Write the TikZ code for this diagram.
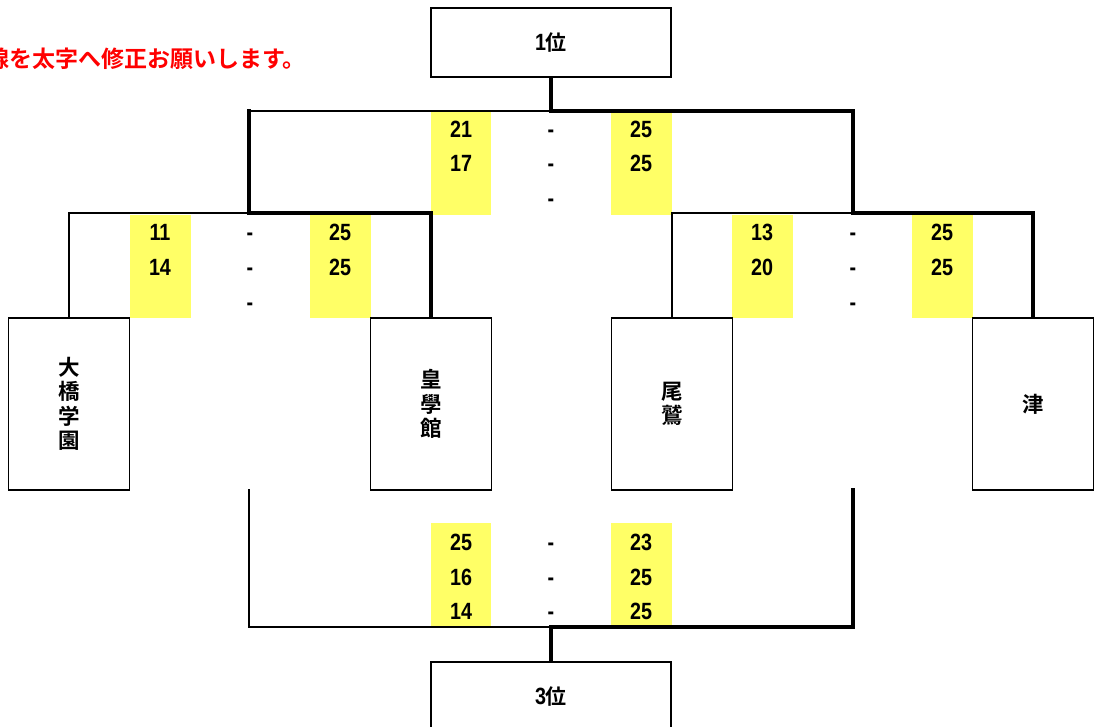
\documentclass[tikz,border=0pt]{standalone}
\usepackage{fontspec}
\newfontfamily\numfont{Liberation Sans Bold}[FakeStretch=0.84]
\newfontfamily\jpfont{Noto Sans CJK JP Bold}
\definecolor{ybar}{HTML}{FFFF66}
\begin{document}
\begin{tikzpicture}[x=1pt,y=-1pt,
  box/.style={draw, line width=1.3pt, inner sep=0pt},
  teambox/.style={box, minimum width=121pt, minimum height=172pt, align=center,
    font=\jpfont\fontsize{21.5}{24.5}\selectfont},
  rankbox/.style={box, minimum width=240pt, minimum height=69pt,
    font=\fontsize{21}{24}\selectfont},
  thinl/.style={line width=1.2pt, line cap=rect},
  thickl/.style={line width=4pt, line cap=rect, line join=miter},
  score/.style={inner sep=0pt, anchor=base, yshift=-8.5pt, font=\numfont\fontsize{23.5}{26}\selectfont},
  dashtxt/.style={score},
  yb/.style={fill=ybar, draw=none}]
\useasboundingbox (0,0) rectangle (1094,726);

% yellow score columns
\fill[yb] (431,112) rectangle (491,215);
\fill[yb] (611,112) rectangle (672,215);
\fill[yb] (130,215) rectangle (191,318);
\fill[yb] (310,215) rectangle (371,318);
\fill[yb] (732,215) rectangle (793,318);
\fill[yb] (912,215) rectangle (973,318);
\fill[yb] (431,523) rectangle (491,627);
\fill[yb] (611,523) rectangle (672,627);

% boxes
\node[rankbox] (first) at (551,42.5) {{\numfont\fontsize{23.5}{26}\selectfont 1}\jpfont 位};
\node[rankbox, minimum height=70pt] (third) at (551,697) {{\numfont\fontsize{23.5}{26}\selectfont 3}\jpfont 位};
\node[teambox] (ohashi) at (69,404) {大\\橋\\学\\園};
\node[teambox] (kogak) at (431,404) {皇\\學\\館};
\node[teambox] (owase) at (672,404) {尾\\鷲};
\node[teambox] (tsu) at (1033,404) {津};

% note
\node[anchor=east, inner sep=0pt, text=red, font=\jpfont\fontsize{23}{26}\selectfont] (note) at (306,59) {線を太字へ修正お願いします。};

% junction coordinates
\coordinate (fL) at (249,111);
\coordinate (fM) at (551,111);
\coordinate (fR) at (853,111);
\coordinate (sL) at (249,213);
\coordinate (sR) at (853,213);
\coordinate (tLs) at (249,490);
\coordinate (tRs) at (853,490);
\coordinate (tM) at (551,627);

% semifinal left
\draw[thinl] (ohashi.north) |- (sL);
\draw[thickl] (kogak.north) |- (sL) -- (fL);
% semifinal right
\draw[thinl] (owase.north) |- (sR);
\draw[thickl] (tsu.north) |- (sR) -- (fR);
% final
\draw[thinl] (fL) -- (fM);
\draw[thickl] (fR) -- (fM) -- (first.south);
% third place
\draw[thinl] (tLs) |- (tM);
\draw[thickl] (tRs) |- (tM) -- (third.north);

% scores final
\node[score] (f1a) at (461,129) {21}; \node[dashtxt] (f1d) at (551,129) {-}; \node[score] (f1b) at (641,129) {25};
\node[score] (f2a) at (461,163) {17}; \node[dashtxt] (f2d) at (551,163) {-}; \node[score] (f2b) at (641,163) {25};
\node[dashtxt] (f3d) at (551,198) {-};
% scores left semi
\node[score] (l1a) at (160,232) {11}; \node[dashtxt] (l1d) at (250,232) {-}; \node[score] (l1b) at (340,232) {25};
\node[score] (l2a) at (160,267) {14}; \node[dashtxt] (l2d) at (250,267) {-}; \node[score] (l2b) at (340,267) {25};
\node[dashtxt] (l3d) at (250,302) {-};
% scores right semi
\node[score] (r1a) at (762,232) {13}; \node[dashtxt] (r1d) at (853,232) {-}; \node[score] (r1b) at (942,232) {25};
\node[score] (r2a) at (762,267) {20}; \node[dashtxt] (r2d) at (853,267) {-}; \node[score] (r2b) at (942,267) {25};
\node[dashtxt] (r3d) at (853,302) {-};
% scores third place
\node[score] (t1a) at (461,542) {25}; \node[dashtxt] (t1d) at (551,542) {-}; \node[score] (t1b) at (641,542) {23};
\node[score] (t2a) at (461,577) {16}; \node[dashtxt] (t2d) at (551,577) {-}; \node[score] (t2b) at (641,577) {25};
\node[score] (t3a) at (461,611) {14}; \node[dashtxt] (t3d) at (551,611) {-}; \node[score] (t3b) at (641,611) {25};
\end{tikzpicture}
\end{document}
